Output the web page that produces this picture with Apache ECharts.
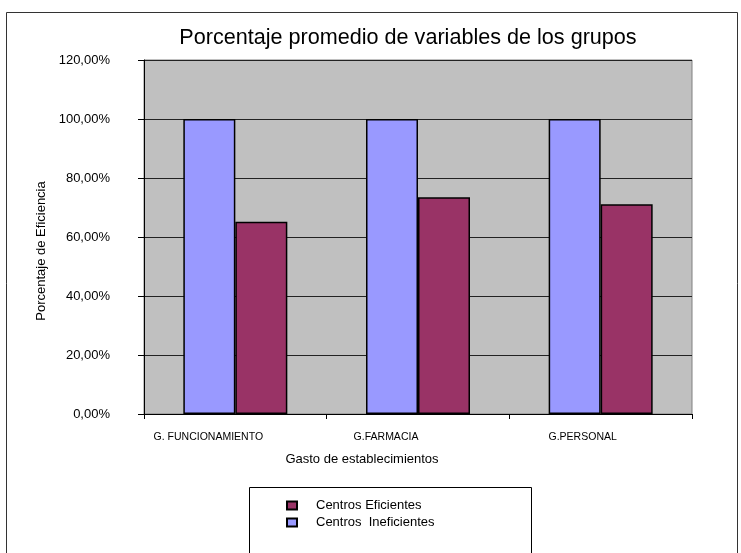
<!DOCTYPE html>
<html>
<head>
<meta charset="utf-8">
<style>
  html, body { margin: 0; padding: 0; background: #fff; }
  #chart { width: 741px; height: 553px; }
</style>
<script src="https://cdn.jsdelivr.net/npm/echarts@6/dist/echarts.min.js"></script>
</head>
<body>
<div id="chart"></div>
<script>
// Categories on the x axis
const categories = ['G. FUNCIONAMIENTO', 'G.FARMACIA', 'G.PERSONAL'];
// Average efficiency percentage per group
const ineficientes = [100, 100, 100];
const eficientes = [65.2, 73.5, 71.1];
// Y axis range
const yTicks = { min: 0, max: 120, step: 20 };

const FONT = '"Liberation Sans", Arial, sans-serif';

// Category labels sit a little left of their slot centre
const labelShift = [27, 32, 18];
const xData = categories.map((c, i) => ({
  value: c,
  textStyle: { padding: [0, labelShift[i] * 2, 0, 0] }
}));

const chart = echarts.init(document.getElementById('chart'), null, { renderer: 'canvas' });

const fmtPct = v => v.toFixed(2).replace('.', ',') + '%';

chart.setOption({
  animation: false,
  backgroundColor: '#ffffff',
  textStyle: { fontFamily: FONT },
  title: {
    text: 'Porcentaje promedio de variables de los grupos',
    left: 403,
    top: 22,
    textAlign: 'center',
    textStyle: { fontFamily: FONT, fontSize: 21.6, fontWeight: 'normal', color: '#000' }
  },
  grid: {
    left: 144, top: 60, right: 49, bottom: 139,
    show: true,
    backgroundColor: '#C0C0C0',
    borderColor: '#808080',
    borderWidth: 1
  },
  legend: {
    orient: 'vertical',
    left: 281,
    top: 492,
    itemWidth: 10,
    itemHeight: 8,
    itemGap: 0,
    icon: 'rect',
    data: ['Centros Eficientes', 'Centros  Ineficientes'],
    textStyle: { fontFamily: FONT, fontSize: 13, color: '#000', lineHeight: 14, padding: [3, 0, 0, 14] }
  },
  xAxis: {
    type: 'category',
    data: xData,
    axisLine: { lineStyle: { color: '#000', width: 1 } },
    axisTick: { show: true, length: 5, lineStyle: { color: '#000' } },
    axisLabel: { fontFamily: FONT, fontSize: 10.5, color: '#000', margin: 18 },
    splitLine: { show: false }
  },
  yAxis: {
    type: 'value',
    min: yTicks.min,
    max: yTicks.max,
    interval: yTicks.step,
    axisLine: { show: true, lineStyle: { color: '#000', width: 1 } },
    axisTick: { show: true, length: 6, lineStyle: { color: '#000' } },
    axisLabel: { fontFamily: FONT, fontSize: 13, color: '#000', margin: 34, formatter: fmtPct },
    splitLine: { show: true, lineStyle: { color: '#222', width: 1 } }
  },
  series: [
    {
      name: 'Centros  Ineficientes',
      type: 'bar',
      data: ineficientes,
      barWidth: 52,
      barGap: '0%',
      itemStyle: { color: '#9999FF', borderColor: '#000', borderWidth: 1.5 }
    },
    {
      name: 'Centros Eficientes',
      type: 'bar',
      data: eficientes,
      barWidth: 52,
      barGap: '0%',
      itemStyle: { color: '#993366', borderColor: '#000', borderWidth: 1.5 }
    }
  ],
  graphic: [
    {
      type: 'rect', silent: true, z: -1,
      shape: { x: 6.5, y: 12.5, width: 731, height: 600 },
      style: { fill: 'none', stroke: '#333', lineWidth: 1 }
    },
    {
      type: 'rect', silent: true,
      shape: { x: 249.5, y: 487.5, width: 282, height: 100 },
      style: { fill: 'none', stroke: '#000', lineWidth: 1 }
    },
    {
      type: 'text', silent: true,
      x: 41, y: 251, rotation: Math.PI / 2,
      style: {
        text: 'Porcentaje de Eficiencia',
        font: '13px ' + FONT, fill: '#000',
        align: 'center', verticalAlign: 'middle'
      }
    },
    {
      type: 'text', silent: true,
      x: 362, y: 459,
      style: {
        text: 'Gasto de establecimientos',
        font: '13px ' + FONT, fill: '#000',
        align: 'center', verticalAlign: 'middle'
      }
    }
  ]
});
</script>
</body>
</html>
